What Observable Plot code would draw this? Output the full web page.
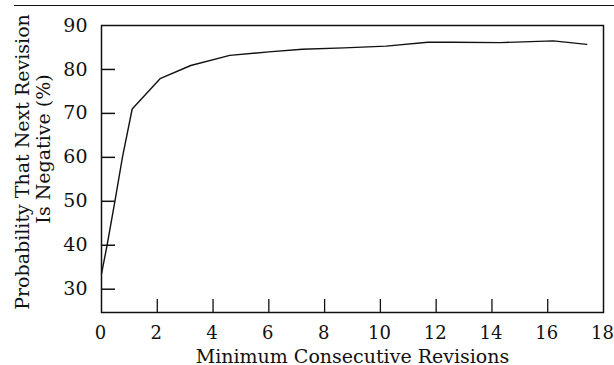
<!DOCTYPE html>
<html>
<head>
<meta charset="utf-8">
<script src="https://cdn.jsdelivr.net/npm/d3@7"></script>
<script src="https://cdn.jsdelivr.net/npm/@observablehq/plot@0.6"></script>
<style>
  html, body { margin: 0; padding: 0; background: #fff; }
  #wrap { position: relative; width: 614px; height: 365px; overflow: hidden; }
  #rule { position: absolute; left: 14px; right: 0; top: 5px; height: 0; border-top: 1.5px solid #111; }
</style>
</head>
<body>
<div id="wrap"><div id="rule"></div></div>
<script>
// Data
const revisions   = [0, 0.2, 0.48, 0.75, 1.1, 2.1, 3.2, 4.6, 6.0, 7.2, 8.7, 10.2, 11.7, 12.6, 14.3, 16.2, 17.4];
const probability = [33.5, 40, 50, 60, 71, 77.9, 80.9, 83.2, 84.0, 84.6, 84.9, 85.3, 86.2, 86.2, 86.1, 86.5, 85.7];
const xTicks = [0, 2, 4, 6, 8, 10, 12, 14, 16, 18];
const yTicks = [30, 40, 50, 60, 70, 80, 90];
const xTitle = "Minimum Consecutive Revisions";
const yTitle1 = "Probability That Next Revision";
const yTitle2 = "Is Negative (%)";

const data = revisions.map((x, i) => ({x, y: probability[i]}));

const W = 614, H = 365;
const mL = 101, mR = 11, mT = 25, mB = 53;
const frameW = W - mL - mR, frameH = H - mT - mB;
const font = "DejaVu Serif";

const chart = Plot.plot({
  width: W, height: H,
  marginLeft: mL, marginRight: mR, marginTop: mT, marginBottom: mB,
  style: {fontFamily: font, fontSize: "19px", background: "transparent", color: "#111"},
  x: {domain: [0, 18], label: null},
  y: {domain: [24.7, 90], label: null},
  marks: [
    Plot.frame({stroke: "#111", strokeWidth: 1.5}),
    Plot.axisY(yTicks, {tickSize: 0, tickPadding: 14, fontSize: 19, label: null}),
    Plot.axisX(xTicks, {tickSize: 0, tickPadding: 14, fontSize: 18, dx: -1, label: null}),
    Plot.tickY(yTicks.filter(d => d < 90), {y: d => d, stroke: "#111", strokeWidth: 1.5, insetRight: frameW - 14}),
    Plot.tickX(xTicks.filter(d => d > 0 && d < 18), {x: d => d, stroke: "#111", strokeWidth: 1.3, insetTop: frameH - 13}),
    Plot.line(data, {x: "x", y: "y", stroke: "#111", strokeWidth: 1.4}),
    Plot.text([xTitle], {frameAnchor: "bottom", dy: 50, lineAnchor: "bottom", fontSize: 19, fill: "#111"}),
    Plot.text([yTitle1], {frameAnchor: "left", rotate: -90, dx: -79, dy: -7, textAnchor: "middle", lineAnchor: "middle", fontSize: 19, fill: "#111"}),
    Plot.text([yTitle2], {frameAnchor: "left", rotate: -90, dx: -58, dy: -20, textAnchor: "middle", lineAnchor: "middle", fontSize: 19, fill: "#111"})
  ]
});
chart.style.position = "absolute";
chart.style.left = "0";
chart.style.top = "0";
document.getElementById("wrap").appendChild(chart);
</script>
</body>
</html>
